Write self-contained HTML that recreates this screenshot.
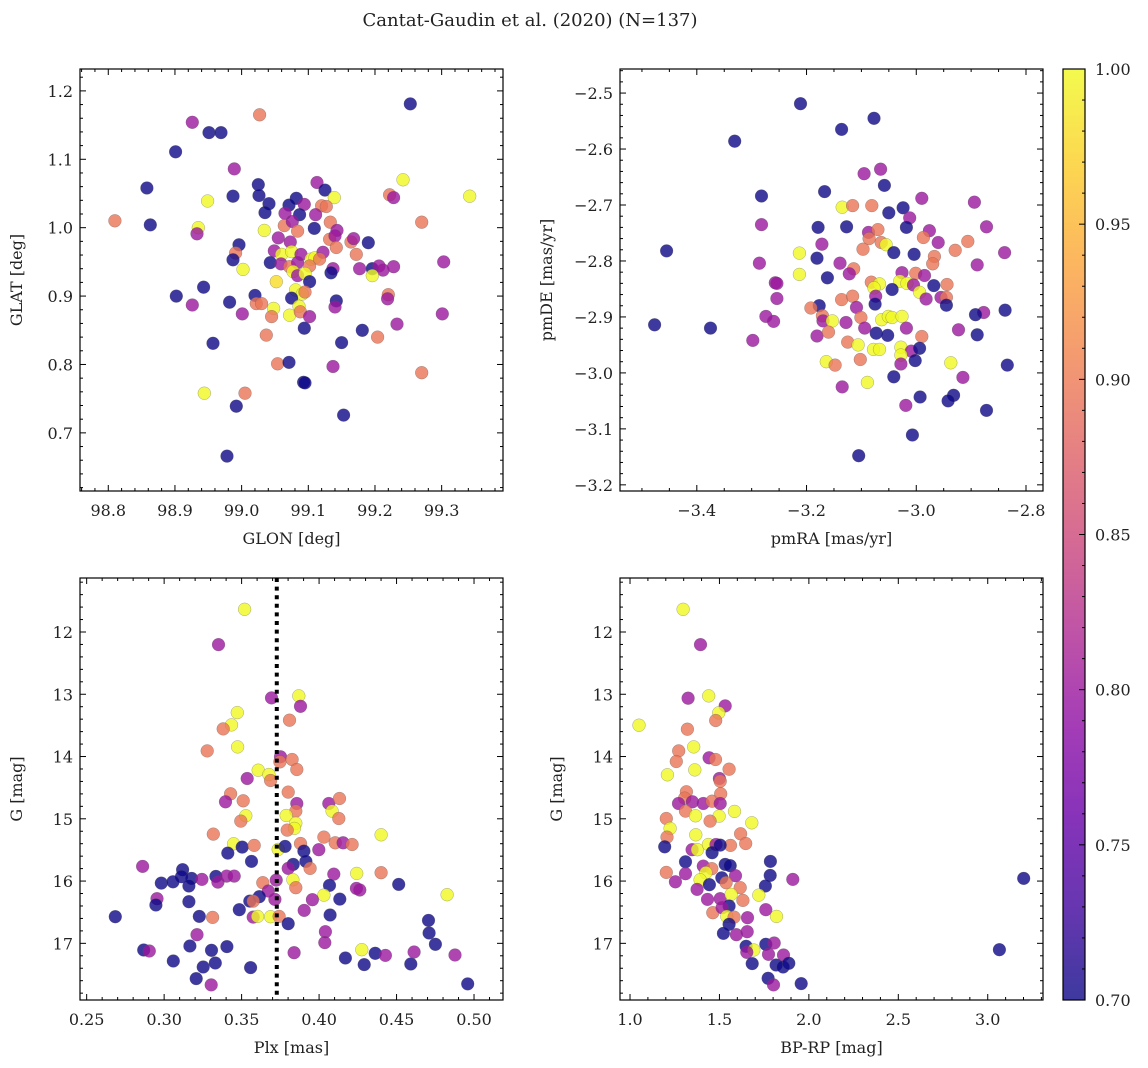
<!DOCTYPE html>
<html><head><meta charset="utf-8">
<style>
html,body{margin:0;padding:0;background:#fff;}
svg{display:block;font-family:"DejaVu Serif","Liberation Serif",serif;}
</style></head>
<body>
<svg id="fig" width="1148" height="1068" viewBox="0 0 1148 1068" xmlns="http://www.w3.org/2000/svg">
<text x="530" y="26" font-size="18" text-anchor="middle" fill="#222">Cantat-Gaudin et al. (2020) (N=137)</text>
</svg>
<script>
// ---- Panel 1: GLON vs GLAT ----
const p1Glon=[99.253,99.027,98.926,98.951,98.969,98.901,98.989,98.858,99.242,99.025,98.987,99.026,98.949,99.113,99.125,99.082,99.041,99.071,99.094,99.139,99.120,99.127,99.222,99.228,99.342,98.810,98.863,98.935,98.933,99.035,99.065,99.087,99.111,99.034,99.064,99.076,99.084,99.109,99.133,99.143,99.132,99.140,99.164,99.168,99.190,99.270,99.055,99.073,98.996,98.991,98.987,99.049,99.060,99.075,99.043,99.059,99.072,99.084,99.089,99.104,99.110,99.122,99.102,99.117,99.142,99.172,99.002,99.077,99.084,99.095,99.102,99.137,99.134,99.177,99.196,99.206,99.212,99.228,99.196,99.303,99.052,98.943,98.902,98.926,98.982,99.020,99.022,99.030,99.081,99.091,99.095,99.075,99.142,99.140,99.220,99.219,99.001,99.048,99.045,99.072,99.086,99.088,99.102,99.301,99.233,99.094,99.181,99.204,99.037,98.957,99.150,99.054,99.071,99.137,99.270,99.093,99.095,98.944,99.005,98.992,99.153,98.978];
const p1Glat=[1.181,1.165,1.154,1.139,1.139,1.111,1.086,1.058,1.070,1.063,1.046,1.047,1.039,1.066,1.055,1.043,1.035,1.033,1.034,1.044,1.032,1.031,1.048,1.044,1.046,1.010,1.004,1.000,0.991,1.022,1.021,1.019,1.019,0.996,1.003,1.009,0.995,0.999,1.008,0.996,0.983,0.988,0.979,0.984,0.978,1.008,0.985,0.979,0.975,0.963,0.953,0.966,0.961,0.965,0.949,0.947,0.943,0.949,0.961,0.954,0.956,0.964,0.944,0.954,0.971,0.961,0.939,0.936,0.930,0.933,0.921,0.940,0.934,0.940,0.940,0.944,0.938,0.943,0.930,0.950,0.921,0.913,0.900,0.887,0.891,0.901,0.889,0.889,0.909,0.903,0.906,0.897,0.893,0.884,0.902,0.896,0.874,0.882,0.870,0.872,0.885,0.877,0.870,0.874,0.859,0.853,0.850,0.840,0.843,0.831,0.832,0.801,0.803,0.797,0.788,0.774,0.773,0.758,0.758,0.739,0.726,0.666];
const p1Prob=[0.70,0.895,0.80,0.70,0.70,0.70,0.80,0.70,1.0,0.70,0.70,0.70,1.0,0.80,0.70,0.70,0.70,0.70,0.80,1.0,0.895,0.895,0.895,0.80,1.0,0.895,0.70,1.0,0.80,0.70,0.80,0.70,0.80,1.0,0.895,0.80,0.895,0.70,0.895,0.80,0.895,0.80,0.895,0.80,0.70,0.895,0.80,0.80,0.70,0.895,0.70,0.80,1.0,1.0,0.70,0.80,0.895,0.80,0.80,1.0,1.0,0.80,0.895,0.895,0.895,0.895,1.0,1.0,0.80,1.0,0.70,0.80,0.70,0.80,0.70,0.80,0.80,0.80,1.0,0.80,0.98,0.70,0.70,0.80,0.70,0.70,0.895,0.895,1.0,1.0,0.895,0.70,0.70,0.80,0.895,0.80,0.80,1.0,0.895,1.0,1.0,0.895,0.80,0.80,0.80,0.70,0.70,0.895,0.895,0.70,0.70,0.895,0.70,0.80,0.895,0.70,0.70,1.0,0.895,0.70,0.70,0.70];

// ---- Panel 2: pmRA vs pmDE ----
const p2Pmra=[-3.211,-3.077,-3.136,-3.331,-3.095,-3.065,-3.058,-3.167,-3.282,-2.990,-2.894,-3.135,-3.116,-3.081,-3.050,-3.024,-3.012,-3.282,-3.179,-3.127,-3.087,-3.070,-3.018,-2.976,-2.872,-3.455,-3.172,-3.086,-3.064,-3.055,-2.987,-2.960,-2.906,-3.213,-3.181,-3.097,-3.041,-3.004,-2.967,-2.929,-2.839,-3.286,-3.139,-3.114,-3.122,-3.213,-3.026,-3.001,-2.985,-2.970,-2.889,-3.162,-3.257,-3.254,-3.082,-3.067,-3.077,-3.030,-3.017,-3.005,-2.968,-2.944,-3.254,-3.136,-3.116,-3.074,-3.044,-2.994,-2.982,-2.955,-2.945,-3.177,-3.192,-3.075,-3.109,-2.945,-2.838,-2.877,-2.892,-3.477,-3.375,-3.274,-3.260,-3.171,-3.170,-3.153,-3.128,-3.101,-3.094,-3.063,-3.051,-3.044,-3.026,-3.018,-2.923,-3.298,-3.181,-3.160,-3.073,-3.052,-2.990,-2.889,-3.125,-3.106,-3.078,-3.067,-3.028,-3.009,-2.994,-3.028,-3.002,-3.102,-3.164,-3.148,-3.028,-2.937,-2.834,-3.041,-3.089,-3.135,-2.915,-2.993,-2.932,-2.942,-3.019,-2.872,-3.007,-3.105];
const p2Pmde=[-2.519,-2.545,-2.565,-2.586,-2.644,-2.636,-2.665,-2.676,-2.684,-2.688,-2.695,-2.704,-2.701,-2.701,-2.714,-2.705,-2.723,-2.735,-2.740,-2.739,-2.749,-2.744,-2.740,-2.746,-2.739,-2.782,-2.770,-2.760,-2.767,-2.771,-2.758,-2.767,-2.765,-2.786,-2.795,-2.779,-2.785,-2.788,-2.792,-2.781,-2.785,-2.804,-2.804,-2.814,-2.823,-2.824,-2.821,-2.822,-2.826,-2.805,-2.807,-2.830,-2.839,-2.840,-2.838,-2.841,-2.848,-2.836,-2.840,-2.843,-2.844,-2.842,-2.867,-2.869,-2.863,-2.863,-2.851,-2.856,-2.868,-2.865,-2.865,-2.880,-2.884,-2.877,-2.883,-2.879,-2.888,-2.892,-2.896,-2.914,-2.920,-2.899,-2.908,-2.898,-2.907,-2.907,-2.910,-2.901,-2.920,-2.905,-2.899,-2.901,-2.899,-2.920,-2.923,-2.942,-2.934,-2.927,-2.929,-2.933,-2.935,-2.932,-2.945,-2.950,-2.958,-2.958,-2.954,-2.961,-2.956,-2.968,-2.978,-2.976,-2.980,-2.986,-2.984,-2.982,-2.986,-3.007,-3.017,-3.025,-3.008,-3.043,-3.040,-3.050,-3.058,-3.067,-3.111,-3.148];
const p2Prob=[0.70,0.70,0.70,0.70,0.80,0.80,0.70,0.70,0.70,0.80,0.80,1.0,0.895,0.895,0.70,0.70,0.80,0.80,0.70,0.70,0.80,0.895,0.70,0.80,0.80,0.70,0.80,0.895,0.895,1.0,0.895,0.80,0.895,1.0,0.70,0.895,0.70,0.70,0.895,0.895,0.80,0.80,0.80,0.895,0.80,1.0,0.80,0.895,0.80,0.895,0.80,0.70,0.80,0.80,0.895,1.0,1.0,1.0,1.0,0.80,0.70,0.895,0.80,0.895,0.895,0.80,0.70,1.0,0.80,0.80,0.895,0.70,0.895,0.70,0.80,0.70,0.70,0.80,0.70,0.70,0.70,0.80,0.80,0.895,0.80,1.0,0.80,0.895,0.80,1.0,1.0,1.0,1.0,0.80,0.80,0.80,0.80,0.895,0.70,0.70,0.895,0.70,0.895,1.0,1.0,1.0,1.0,0.80,0.70,1.0,0.70,0.895,1.0,0.895,0.80,1.0,0.70,0.70,1.0,0.80,0.80,0.70,0.70,0.70,0.80,0.70,0.70,0.70];

// ---- Panel 3: Plx vs G ----
const p3Plx=[0.3519,0.3351,0.3693,0.3869,0.3880,0.3472,0.3435,0.3381,0.3809,0.3474,0.3278,0.3751,0.3747,0.3826,0.3856,0.3607,0.3676,0.3687,0.3536,0.3429,0.3396,0.3510,0.3801,0.3856,0.3850,0.3788,0.4063,0.4132,0.4084,0.4127,0.3527,0.3495,0.3850,0.3841,0.3794,0.3317,0.4031,0.4104,0.4155,0.4213,0.4400,0.3448,0.3504,0.3581,0.3411,0.3564,0.3736,0.3781,0.3880,0.3902,0.3915,0.3998,0.3942,0.3833,0.3801,0.2861,0.3119,0.3112,0.3177,0.2982,0.3057,0.3160,0.3244,0.3334,0.3347,0.3403,0.3452,0.4095,0.4243,0.4400,0.3831,0.3850,0.3723,0.3637,0.4067,0.4241,0.4263,0.4514,0.4826,0.2954,0.2947,0.3160,0.3672,0.3614,0.3553,0.3575,0.3715,0.4031,0.3957,0.4134,0.3485,0.3904,0.2685,0.3227,0.3313,0.3575,0.3603,0.3687,0.3742,0.3801,0.4071,0.4706,0.4710,0.4751,0.4041,0.4037,0.3212,0.2868,0.2904,0.3166,0.3306,0.3405,0.3059,0.3252,0.3330,0.3558,0.3207,0.3304,0.3839,0.4170,0.4276,0.4291,0.4362,0.4428,0.4592,0.4613,0.4877,0.4959];
const p3G=[11.636,12.203,13.059,13.027,13.193,13.294,13.492,13.556,13.417,13.845,13.909,14.005,14.086,14.048,14.209,14.219,14.289,14.385,14.353,14.599,14.727,14.711,14.572,14.754,14.877,14.947,14.754,14.674,14.877,14.995,14.952,15.037,15.070,15.155,15.182,15.246,15.294,15.385,15.385,15.412,15.257,15.401,15.455,15.428,15.551,15.684,15.492,15.444,15.396,15.519,15.684,15.497,15.797,15.733,15.797,15.765,15.818,15.930,15.957,16.032,16.011,16.080,15.973,15.925,16.016,15.920,15.920,15.888,15.877,15.866,15.979,16.107,15.984,16.027,16.070,16.118,16.144,16.053,16.219,16.283,16.385,16.332,16.160,16.251,16.321,16.321,16.294,16.225,16.299,16.289,16.460,16.471,16.572,16.567,16.583,16.578,16.567,16.572,16.567,16.684,16.545,16.631,16.834,17.016,16.813,16.989,16.861,17.107,17.123,17.043,17.112,17.053,17.283,17.380,17.316,17.390,17.567,17.668,17.150,17.235,17.102,17.342,17.160,17.193,17.332,17.139,17.187,17.652];
const p3Prob=[1.0,0.80,0.80,1.0,0.80,1.0,1.0,0.895,0.895,1.0,0.895,0.80,0.895,0.895,0.895,1.0,1.0,0.895,0.80,0.895,0.80,0.895,0.895,0.80,0.895,1.0,0.80,0.895,1.0,0.895,1.0,0.895,1.0,1.0,0.895,0.895,0.895,0.895,0.80,0.895,1.0,1.0,0.70,0.895,0.70,0.70,1.0,0.70,0.895,0.70,0.70,0.80,0.895,0.70,0.80,0.80,0.70,0.70,0.70,0.70,0.70,0.70,0.80,0.70,0.80,0.80,0.80,0.80,1.0,0.895,1.0,0.895,0.80,0.895,0.70,0.80,0.80,0.70,1.0,0.80,0.70,0.70,0.80,0.70,0.70,0.895,0.80,1.0,0.80,0.70,0.70,0.80,0.70,0.70,0.895,0.80,1.0,1.0,0.895,0.70,0.70,0.70,0.70,0.70,0.80,0.80,0.80,0.70,0.80,0.70,0.70,0.70,0.70,0.70,0.70,0.70,0.70,0.80,0.80,0.70,1.0,0.70,0.70,0.80,0.70,0.80,0.80,0.70];
const plxLine=[0.3727];

// ---- Panel 4: BP-RP vs G ----
const p4Bprp=[1.297,1.394,1.325,1.440,1.532,1.496,1.479,1.050,1.321,1.356,1.272,1.259,1.442,1.478,1.362,1.554,1.209,1.500,1.504,1.315,1.306,1.271,1.349,1.410,1.459,1.507,1.504,1.310,1.366,1.498,1.584,1.681,1.448,1.203,1.224,1.207,1.368,1.618,1.647,1.562,1.194,1.347,1.377,1.438,1.481,1.459,1.504,1.310,1.410,1.457,1.532,1.560,1.785,1.203,1.310,1.254,1.424,1.392,1.590,1.513,1.784,1.757,1.910,1.375,1.444,1.537,1.616,1.433,1.504,1.565,1.631,1.720,1.554,1.463,1.515,1.541,1.582,1.657,1.759,1.819,1.554,1.522,1.595,1.655,1.649,1.692,1.653,1.759,1.806,1.774,1.858,1.683,1.817,1.856,1.888,1.772,1.802,1.957,3.201,3.065];
const p4G=[11.636,12.203,13.064,13.027,13.187,13.299,13.422,13.497,13.561,13.845,13.909,14.080,14.021,14.048,14.214,14.203,14.294,14.353,14.396,14.567,14.668,14.754,14.727,14.754,14.717,14.599,14.754,14.877,14.952,14.957,14.882,15.064,15.037,14.995,15.155,15.294,15.257,15.241,15.396,15.428,15.449,15.497,15.497,15.412,15.412,15.545,15.422,15.690,15.759,15.802,15.733,15.754,15.684,15.861,15.882,16.011,15.866,15.979,15.914,15.947,15.909,16.080,15.973,16.134,16.059,16.027,16.107,16.294,16.283,16.214,16.310,16.225,16.401,16.508,16.428,16.567,16.578,16.588,16.460,16.567,16.695,16.840,16.861,16.813,17.048,17.107,17.144,17.016,16.995,17.176,17.187,17.326,17.348,17.380,17.321,17.561,17.668,17.647,15.957,17.102];
const p4Prob=[1.0,0.80,0.80,1.0,0.80,1.0,0.895,1.0,0.895,1.0,0.895,0.895,0.80,0.895,1.0,0.895,1.0,0.80,0.895,0.895,0.895,0.80,0.80,0.80,0.895,0.895,0.80,0.895,1.0,1.0,1.0,1.0,0.895,0.895,1.0,0.895,1.0,0.895,0.895,0.895,0.70,0.80,1.0,1.0,0.80,0.70,0.70,0.70,0.80,0.895,0.70,0.70,0.70,0.895,0.80,0.80,1.0,1.0,0.80,0.70,0.70,0.70,0.80,0.80,0.70,0.895,0.895,0.80,0.80,1.0,0.895,1.0,0.70,0.895,0.80,1.0,0.895,0.80,0.80,1.0,0.70,0.70,0.80,0.80,0.70,1.0,0.80,0.70,0.80,0.80,0.80,0.70,0.70,0.70,0.70,0.70,0.80,0.70,0.70,0.70];

// ---- tick labels ----
const p1XTicks=[98.8,98.9,99.0,99.1,99.2,99.3];
const p1YTicks=[0.7,0.8,0.9,1.0,1.1,1.2];
const p2XTicks=[-3.4,-3.2,-3.0,-2.8];
const p2YTicks=[-3.2,-3.1,-3.0,-2.9,-2.8,-2.7,-2.6,-2.5];
const p3XTicks=[0.25,0.30,0.35,0.40,0.45,0.50];
const gTicks=[12,13,14,15,16,17];
const p4XTicks=[1.0,1.5,2.0,2.5,3.0];
const cbTicks=[0.70,0.75,0.80,0.85,0.90,0.95,1.00];

const NS="http://www.w3.org/2000/svg";
const svg=document.getElementById('fig');
function mk(tag,attrs,parent){const e=document.createElementNS(NS,tag);for(const k in attrs)e.setAttribute(k,attrs[k]);(parent||svg).appendChild(e);return e;}

const plasma=[[13,8,135],[65,4,157],[106,0,168],[143,13,164],[177,42,144],[204,71,120],[225,100,98],[242,132,75],[252,166,54],[252,206,37],[240,249,33]];
function cmap(v){let t=(v-0.7)/0.3;t=Math.max(0,Math.min(1,t));const f=t*10;const i=Math.min(9,Math.floor(f));const r=f-i;const a=plasma[i],b=plasma[i+1];return 'rgb('+[0,1,2].map(k=>Math.round(a[k]+(b[k]-a[k])*r)).join(',')+')';}
function fmt(v,d){const s=Math.abs(v).toFixed(d);return (v<0?'\u2212':'')+s;}

function panel(o){
  const g=mk('g',{});
  
  
  const sx=v=>o.L+(v-o.xd[0])/(o.xd[1]-o.xd[0])*(o.R-o.L);
  const sy=v=>o.yinv? o.T+(v-o.yd[0])/(o.yd[1]-o.yd[0])*(o.B-o.T) : o.B-(v-o.yd[0])/(o.yd[1]-o.yd[0])*(o.B-o.T);
  for(let i=0;i<o.xs.length;i++){
    const c=mk('circle',{cx:sx(o.xs[i]).toFixed(1),cy:sy(o.ys[i]).toFixed(1),r:6.4,fill:cmap(o.cs[i]),'fill-opacity':0.8,stroke:'#555','stroke-opacity':0.5,'stroke-width':0.5},g);
    
    
  }
  if(o.vline){for(const v of o.vline){const l=mk('line',{x1:sx(v),x2:sx(v),y1:o.T,y2:o.B,stroke:'#000','stroke-width':4,'stroke-dasharray':'4,4.6'},g);
    
    }}
  const f=mk('rect',{x:o.L,y:o.T,width:o.R-o.L,height:o.B-o.T,fill:'none',stroke:'#000','stroke-width':1.2},g);
  
  
  const tk=mk('g',{stroke:'#000','stroke-width':1},g);
  
  
  const xlo=Math.min(...o.xd),xhi=Math.max(...o.xd),ylo=Math.min(...o.yd),yhi=Math.max(...o.yd);
  for(let k=Math.ceil(xlo/o.xm-1e-6);k*o.xm<=xhi+1e-9;k++){const v=k*o.xm;const x=sx(v);const maj=o.xt.some(t=>Math.abs(t-v)<1e-6);const len=maj?6:3;
    mk('line',{x1:x,x2:x,y1:o.B,y2:o.B-len},tk);mk('line',{x1:x,x2:x,y1:o.T,y2:o.T+len},tk);}
  for(let k=Math.ceil(ylo/o.ym-1e-6);k*o.ym<=yhi+1e-9;k++){const v=k*o.ym;const y=sy(v);const maj=o.yt.some(t=>Math.abs(t-v)<1e-6);const len=maj?6:3;
    mk('line',{x1:o.L,x2:o.L+len,y1:y,y2:y},tk);mk('line',{x1:o.R,x2:o.R-len,y1:y,y2:y},tk);}
  for(const t of o.xt){const e=mk('text',{x:sx(t),y:o.B+25,'font-size':16,'text-anchor':'middle',fill:'#222'},g);e.textContent=fmt(t,o.xdp);
    
    }
  for(const t of o.yt){const e=mk('text',{x:o.L-7,y:sy(t)+6,'font-size':16,'text-anchor':'end',fill:'#222'},g);e.textContent=fmt(t,o.ydp);
    
    }
  const xl=mk('text',{x:(o.L+o.R)/2,y:o.B+53,'font-size':16,'text-anchor':'middle',fill:'#222'},g);xl.textContent=o.xlab;
  
  
  const yx=o.L-o.ylOff, yy=(o.T+o.B)/2;
  const yl=mk('text',{x:yx,y:yy,'font-size':16,'text-anchor':'middle',fill:'#222',transform:'rotate(-90 '+yx+' '+yy+')'},g);yl.textContent=o.ylab;
  
  
}

panel({name:'glon-glat-panel',L:80,R:503,T:69,B:491,xd:[98.7576,99.392],yd:[0.615,1.232],xs:p1Glon,ys:p1Glat,cs:p1Prob,xt:p1XTicks,yt:p1YTicks,xm:0.02,ym:0.02,xdp:1,ydp:1,xlab:'GLON [deg]',ylab:'GLAT [deg]',ylOff:58});
panel({name:'proper-motion-panel',L:620,R:1043,T:69,B:491,xd:[-3.540,-2.769],yd:[-3.211,-2.457],xs:p2Pmra,ys:p2Pmde,cs:p2Prob,xt:p2XTicks,yt:p2YTicks,xm:0.05,ym:0.02,xdp:1,ydp:1,xlab:'pmRA [mas/yr]',ylab:'pmDE [mas/yr]',ylOff:68});
panel({name:'parallax-magnitude-panel',L:80,R:503,T:578,B:1000,xd:[0.2457,0.5187],yd:[11.133,17.91],yinv:true,xs:p3Plx,ys:p3G,cs:p3Prob,xt:p3XTicks,yt:gTicks,xm:0.01,ym:0.2,xdp:2,ydp:0,xlab:'Plx [mas]',ylab:'G [mag]',ylOff:58,vline:plxLine});
panel({name:'color-magnitude-panel',L:620,R:1043,T:578,B:1000,xd:[0.944,3.309],yd:[11.133,17.91],yinv:true,xs:p4Bprp,ys:p4G,cs:p4Prob,xt:p4XTicks,yt:gTicks,xm:0.1,ym:0.2,xdp:1,ydp:0,xlab:'BP-RP [mag]',ylab:'G [mag]',ylOff:58});

(function(){
  const L=1063,R=1085,T=69,B=1000;
  const defs=mk('defs',{});
  const lg=mk('linearGradient',{id:'cbg',x1:0,y1:1,x2:0,y2:0},defs);
  for(let i=0;i<=10;i++){mk('stop',{offset:(i/10),'stop-color':cmap(0.7+0.03*i),'stop-opacity':0.8},lg);}
  const g=mk('g',{});
  
  
  mk('rect',{x:L,y:T,width:R-L,height:B-T,fill:'url(#cbg)',stroke:'#000','stroke-width':1.2},g);
  const sy=v=>B-(v-0.7)/0.3*(B-T);
  for(let k=70;k<=100;k++){const v=k/100;const y=sy(v);const maj=k%5===0;mk('line',{x1:R,x2:R-(maj?6:3),y1:y,y2:y,stroke:'#000','stroke-width':1},g);}
  for(const t of cbTicks){const e=mk('text',{x:R+10,y:sy(t)+6,'font-size':16,fill:'#222'},g);e.textContent=t.toFixed(2);
    
    }
})();
</script>
</body></html>
